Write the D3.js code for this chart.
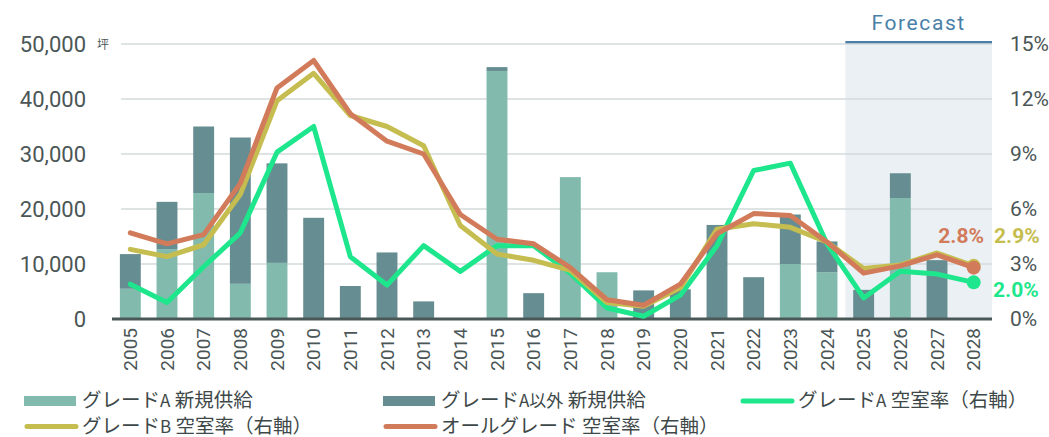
<!DOCTYPE html>
<html>
<head>
<meta charset="utf-8">
<script src="https://cdn.jsdelivr.net/npm/d3@7"></script>
<style>
  body { margin: 0; background: #fff; }
  svg { font-family: Roboto, "Noto Sans CJK JP", sans-serif; }
</style>
</head>
<body>
<div id="chart"></div>
<script>
// chart data
var years = ['2005','2006','2007','2008','2009','2010','2011','2012','2013','2014','2015','2016',
             '2017','2018','2019','2020','2021','2022','2023','2024','2025','2026','2027','2028'];
var gradeASupply = [5500, 12700, 22900, 6400, 10200, 0, 0, 0, 0, 0, 45100, 0,
                    25800, 8500, 0, 0, 0, 0, 10000, 8500, 0, 22000, 0, 0];
var otherSupply = [6300, 8600, 12100, 26600, 18100, 18400, 6000, 12100, 3200, 0, 700, 4700,
                   0, 0, 5200, 5400, 17100, 7600, 9000, 5600, 5300, 4500, 10700, 0];
var vacancyA = [1.9, 0.9, 2.85, 4.7, 9.1, 10.5, 3.4, 1.85, 4.0, 2.6, 4.0, 4.0,
                2.5, 0.6, 0.15, 1.3, 4.0, 8.1, 8.5, 4.1, 1.15, 2.6, 2.45, 2.0];
var vacancyB = [3.8, 3.4, 4.05, 6.8, 11.9, 13.4, 11.1, 10.5, 9.45, 5.1, 3.55, 3.2,
                2.65, 0.9, 0.7, 1.7, 4.9, 5.2, 5.0, 4.2, 2.75, 2.95, 3.6, 2.9];
var vacancyAll = [4.7, 4.1, 4.6, 7.4, 12.6, 14.1, 11.2, 9.7, 9.0, 5.7, 4.35, 4.1,
                  2.8, 1.05, 0.75, 1.9, 4.65, 5.75, 5.65, 4.2, 2.5, 2.9, 3.5, 2.8];
var leftTicks = [0, 10000, 20000, 30000, 40000, 50000];
var rightTicks = [0, 3, 6, 9, 12, 15];
var forecastYears = ['2025','2026','2027','2028'];

var width = 1049, height = 437;
var colLight = '#82bbad', colDark = '#668d91';
var colA = '#1ee68c', colB = '#c5bd50', colAll = '#d27b5a';
var textCol = '#4b5656';
var numFont = 'Roboto, sans-serif';

var svg = d3.select('#chart').append('svg')
  .attr('width', width).attr('height', height);

var x = d3.scaleBand().domain(years).range([112, 992]).paddingInner(0.43).paddingOuter(0.215);
var yL = d3.scaleLinear().domain([0, 50000]).range([319, 44]);
var yR = d3.scaleLinear().domain([0, 15]).range([319, 44]);

// forecast shading
var fx0 = x(forecastYears[0]) - x.step() * x.paddingInner() / 2;
svg.append('rect')
  .attr('x', fx0).attr('y', 44).attr('width', 992 - fx0).attr('height', 275)
  .attr('fill', '#ebf0f5');
svg.append('line')
  .attr('x1', fx0).attr('x2', 992).attr('y1', 42.5).attr('y2', 42.5)
  .attr('stroke', '#4a7fa8').attr('stroke-width', 3);
svg.append('text')
  .attr('x', (fx0 + 992) / 2).attr('y', 30)
  .attr('text-anchor', 'middle').attr('fill', '#4a7fa8')
  .attr('font-size', 21).attr('letter-spacing', 1.6).text('Forecast');

// grid lines
svg.selectAll('.grid').data(leftTicks.slice(1)).enter().append('line')
  .attr('x1', 121).attr('x2', 992)
  .attr('y1', function(d) { return yL(d); }).attr('y2', function(d) { return yL(d); })
  .attr('stroke', '#d3dadb').attr('stroke-width', 1.5);

// left axis
var axL = svg.append('g').attr('transform', 'translate(86,0)')
  .call(d3.axisLeft(yL).tickValues(leftTicks).tickSize(0).tickPadding(0)
    .tickFormat(d3.format(',')));
axL.attr('font-family', numFont);
axL.select('.domain').remove();
axL.selectAll('text').attr('font-size', 22).attr('fill', textCol);
svg.append('text').attr('x', 97).attr('y', 49).attr('font-size', 12)
  .attr('fill', textCol).attr('font-family', '"Noto Sans CJK JP", sans-serif').text('坪');

// right axis
var axR = svg.append('g').attr('transform', 'translate(1010,0)')
  .call(d3.axisRight(yR).tickValues(rightTicks).tickSize(0).tickPadding(0)
    .tickFormat(function(d) { return d + '%'; }));
axR.attr('font-family', numFont);
axR.select('.domain').remove();
axR.selectAll('text').attr('font-size', 21).attr('fill', textCol);

// stacked bars
var stackData = years.map(function(y, i) {
  return { year: y, a: gradeASupply[i], o: otherSupply[i] };
});
var series = d3.stack().keys(['a', 'o'])(stackData);
svg.selectAll('.series').data(series).enter().append('g')
  .attr('fill', function(d, i) { return i === 0 ? colLight : colDark; })
  .selectAll('rect').data(function(d) { return d; }).enter().append('rect')
  .attr('x', function(d) { return x(d.data.year); })
  .attr('width', x.bandwidth())
  .attr('y', function(d) { return yL(d[1]); })
  .attr('height', function(d) { return yL(d[0]) - yL(d[1]); });

// baseline
svg.append('line').attr('x1', 112).attr('x2', 992).attr('y1', 319).attr('y2', 319)
  .attr('stroke', '#4a5757').attr('stroke-width', 3);

// x labels
var axX = svg.append('g').attr('transform', 'translate(0,319)')
  .call(d3.axisBottom(x).tickSize(0).tickPadding(0));
axX.attr('font-family', numFont);
axX.select('.domain').remove();
axX.selectAll('text')
  .attr('font-size', 19).attr('fill', textCol)
  .attr('text-anchor', 'end')
  .attr('dy', '0.35em')
  .attr('transform', 'translate(0,9) rotate(-90)')
  .attr('x', 0).attr('y', 0);

// lines
var line = d3.line()
  .x(function(d, i) { return x(years[i]) + x.bandwidth() / 2; })
  .y(function(d) { return yR(d); });
var lines = [
  { vals: vacancyA, col: colA },
  { vals: vacancyB, col: colB },
  { vals: vacancyAll, col: colAll }
];
lines.forEach(function(l) {
  svg.append('path').datum(l.vals).attr('d', line)
    .attr('fill', 'none').attr('stroke', l.col).attr('stroke-width', 5)
    .attr('stroke-linejoin', 'round').attr('stroke-linecap', 'round');
  var n = l.vals.length - 1;
  svg.append('circle')
    .attr('cx', x(years[n]) + x.bandwidth() / 2).attr('cy', yR(l.vals[n]))
    .attr('r', 7).attr('fill', l.col);
});

// end labels
function endLabel(txt, xx, yy, col, anchor) {
  svg.append('text').attr('x', xx).attr('y', yy).attr('fill', col)
    .attr('font-size', 21).attr('font-weight', 'bold')
    .attr('text-anchor', anchor).text(txt);
}
endLabel(vacancyAll[23].toFixed(1) + '%', 984, 243, colAll, 'end');
endLabel(vacancyB[23].toFixed(1) + '%', 994, 243, colB, 'start');
endLabel(vacancyA[23].toFixed(1) + '%', 993, 297, colA, 'start');

// legend
var legend = [
  { name: 'グレード', sub: 'A', rest: ' 新規供給', col: colLight, type: 'rect', x: 24, y: 401 },
  { name: 'グレード', sub: 'A以外', rest: ' 新規供給', col: colDark, type: 'rect', x: 383, y: 401 },
  { name: 'グレード', sub: 'A', rest: ' 空室率（右軸）', col: colA, type: 'line', x: 740, y: 401 },
  { name: 'グレード', sub: 'B', rest: ' 空室率（右軸）', col: colB, type: 'line', x: 24, y: 426.5 },
  { name: 'オールグレード', sub: '', rest: ' 空室率（右軸）', col: colAll, type: 'line', x: 383, y: 426.5 }
];
var lg = svg.selectAll('.legend').data(legend).enter().append('g')
  .attr('transform', function(d) { return 'translate(' + d.x + ',' + d.y + ')'; });
lg.each(function(d) {
  var g = d3.select(this);
  if (d.type === 'rect') {
    g.append('rect').attr('x', 0).attr('y', -5).attr('width', 52).attr('height', 10).attr('fill', d.col);
  } else {
    g.append('line').attr('x1', 3).attr('x2', 52).attr('y1', 0).attr('y2', 0)
      .attr('stroke', d.col).attr('stroke-width', 5).attr('stroke-linecap', 'round');
  }
  var t = g.append('text').attr('x', 58).attr('y', 6).attr('font-size', 19.5)
    .attr('fill', '#3e4848').attr('font-family', '"Noto Sans CJK JP", sans-serif');
  t.append('tspan').text(d.name);
  if (d.sub) t.append('tspan').attr('font-size', 17).text(d.sub);
  t.append('tspan').text(d.rest);
});
</script>
</body>
</html>
